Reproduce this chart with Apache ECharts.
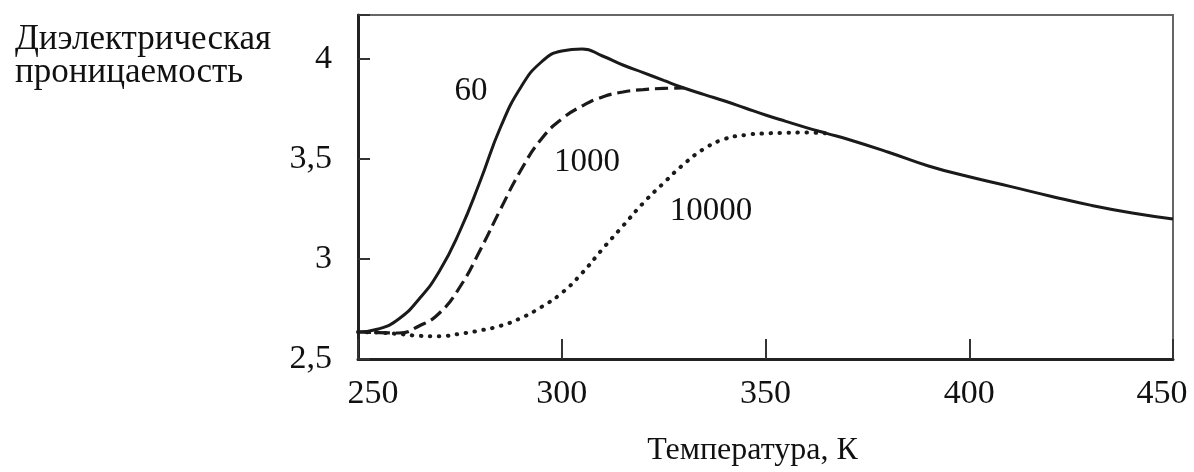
<!DOCTYPE html>
<html><head><meta charset="utf-8">
<script src="https://cdn.jsdelivr.net/npm/echarts@6/dist/echarts.min.js"></script>
<style>html,body{margin:0;padding:0;background:#fff}#c{width:1194px;height:472px}</style>
</head><body><div id="c"></div>
<script>
// Temperature, K
const temperatures = [250,255,260,265,270,275,280,285,290,295,300,305,310,315,320,325,330,335,340,345,350,355,360,365,370,380,390,400,410,420,430,440,450];
// Dielectric permittivity at 60 Hz (solid)
const eps60 = [2.635,2.65,2.70,2.80,2.94,3.14,3.39,3.66,3.86,3.985,4.04,4.05,4.015,3.97,3.932,3.893,3.855,3.822,3.79,3.755,3.72,3.688,3.657,3.628,3.60,3.535,3.465,3.411,3.363,3.314,3.268,3.23,3.20];
// 1000 Hz (dashed)
const eps1000 = [2.635,2.632,2.63,2.665,2.73,2.86,3.045,3.25,3.445,3.60,3.70,3.765,3.81,3.835,3.847,3.853,3.855,null,null,null,null,null,null,null,null,null,null,null,null,null,null,null,null];
// 10000 Hz (dotted)
const eps10000 = [2.635,2.632,2.625,2.616,2.614,2.626,2.643,2.666,2.705,2.76,2.83,2.93,3.05,3.165,3.28,3.38,3.475,3.552,3.60,3.62,3.628,3.631,3.632,3.628,null,null,null,null,null,null,null,null,null];
const xTickLabels = [250,300,350,400,450];
const yTickLabels = [2.5,3,3.5,4];
const curveNames = ['60','1000','10000'];

const pairs = arr => temperatures.map((t,i) => [t, arr[i]]);
const font = 'Liberation Serif';
const ink = '#1a1a1a';

const chart = echarts.init(document.getElementById('c'));
chart.setOption({
  animation: false,
  backgroundColor: '#fff',
  title: {
    text: 'Диэлектрическая\nпроницаемость',
    left: 10, top: 18,
    textAlign: 'left',
    textStyle: { fontFamily: font, fontSize: 35, fontWeight: 'normal', color: '#111', lineHeight: 33, align: 'center' }
  },
  grid: { left: 358, right: 21, top: 15, bottom: 112, show: true, borderColor: '#666', borderWidth: 2 },
  xAxis: {
    type: 'value', min: 250, max: 450, interval: 50,
    name: 'Температура, К', nameLocation: 'middle', nameGap: 76,
    nameTextStyle: { fontFamily: font, fontSize: 32, color: '#111', padding: [0, 26, 0, 0] },
    axisLine: { show: true, lineStyle: { color: '#222', width: 3 } },
    axisTick: { show: true, inside: true, length: 20, lineStyle: { color: '#333', width: 2 } },
    splitLine: { show: false },
    axisLabel: {
      margin: 18, fontFamily: font, fontSize: 34, color: '#111',
      formatter: v => {
        if (!xTickLabels.includes(v)) return '';
        if (v === xTickLabels[0]) return '{first|' + v + '}';
        if (v === xTickLabels[xTickLabels.length-1]) return '{last|' + v + '}';
        return String(v);
      },
      rich: {
        first: { fontFamily: font, fontSize: 34, color: '#111', padding: [0, 0, 0, 30] },
        last: { fontFamily: font, fontSize: 34, color: '#111', padding: [0, 22, 0, 0] }
      }
    }
  },
  yAxis: {
    type: 'value', min: 2.5, max: 4.22, interval: 0.5,
    axisLine: { show: true, lineStyle: { color: '#222', width: 3 } },
    axisTick: { show: true, inside: true, length: 12, lineStyle: { color: '#333', width: 2 } },
    splitLine: { show: false },
    axisLabel: {
      margin: 26, fontFamily: font, fontSize: 34, color: '#111',
      formatter: v => yTickLabels.includes(v) ? String(v).replace('.', ',') : ''
    }
  },
  series: [
    {
      type: 'line', name: curveNames[2], data: pairs(eps10000), showSymbol: false, smooth: 0.5,
      lineStyle: { color: ink, width: 4, type: [0.5, 8.5], cap: 'round' },
      markPoint: { symbol: 'circle', symbolSize: 1, itemStyle: { color: 'rgba(0,0,0,0)' },
        label: { show: true, position: 'inside', formatter: '{b}', fontFamily: font, fontSize: 33, color: '#111' },
        data: [{ name: curveNames[2], coord: [336.6, 3.236] }] }
    },
    {
      type: 'line', name: curveNames[1], data: pairs(eps1000), showSymbol: false, smooth: 0.5,
      lineStyle: { color: ink, width: 3.2, type: [13, 6] },
      markPoint: { symbol: 'circle', symbolSize: 1, itemStyle: { color: 'rgba(0,0,0,0)' },
        label: { show: true, position: 'inside', formatter: '{b}', fontFamily: font, fontSize: 33, color: '#111' },
        data: [{ name: curveNames[1], coord: [306.2, 3.485] }] }
    },
    {
      type: 'line', name: curveNames[0], data: pairs(eps60), showSymbol: false, smooth: 0.5,
      lineStyle: { color: ink, width: 3 },
      markPoint: { symbol: 'circle', symbolSize: 1, itemStyle: { color: 'rgba(0,0,0,0)' },
        label: { show: true, position: 'inside', formatter: '{b}', fontFamily: font, fontSize: 33, color: '#111' },
        data: [{ name: curveNames[0], coord: [277.7, 3.838] }] }
    }
  ]
});
</script>
</body></html>
